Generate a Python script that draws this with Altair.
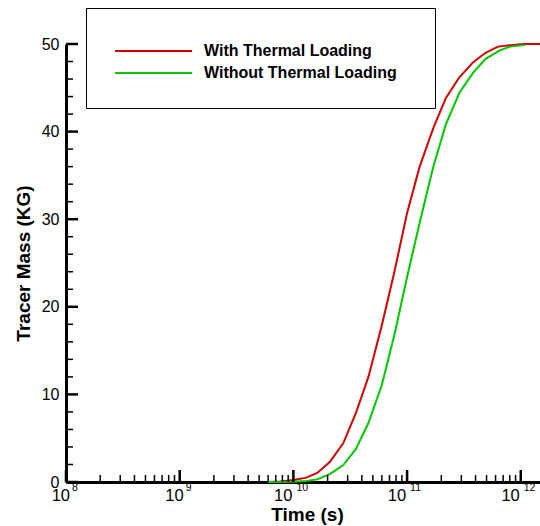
import altair as alt
import pandas as pd

FONT = "Liberation Sans"

series_names = ["With Thermal Loading", "Without Thermal Loading"]
series_colors = ["#d40000", "#00c800"]

time_with = [6.0e9, 7.7e9, 1.0e10, 1.3e10, 1.62e10, 2.09e10, 2.75e10, 3.55e10,
             4.57e10, 6.0e10, 7.8e10, 1.0e11, 1.29e11, 1.7e11, 2.19e11, 2.88e11,
             3.8e11, 4.9e11, 6.3e11, 8.1e11, 1.07e12, 1.38e12, 1.476e12]
mass_with = [0, 0.05, 0.23, 0.5, 1.03, 2.28, 4.45, 7.9, 12.0, 17.9, 24.2, 30.7,
             36.0, 40.4, 43.8, 46.2, 47.9, 49.0, 49.7, 49.85, 50, 50, 50]

time_without = [6.0e9, 7.7e9, 1.0e10, 1.3e10, 1.62e10, 2.09e10, 2.75e10, 3.55e10,
                4.57e10, 6.0e10, 7.8e10, 1.0e11, 1.29e11, 1.7e11, 2.19e11, 2.88e11,
                3.8e11, 4.9e11, 6.6e11, 8.1e11, 1.1e12]
mass_without = [0, 0, 0.02, 0.12, 0.3, 0.9, 1.94, 3.77, 6.73, 11.1, 17.0, 23.4,
                29.6, 36.0, 40.8, 44.4, 46.7, 48.3, 49.3, 49.7, 49.9]

x_major = [1e8, 1e9, 1e10, 1e11, 1e12]
x_minor = [m * d for d in [1e8, 1e9, 1e10, 1e11] for m in range(2, 10)]
x_exp_short = ["8", "9"]
x_exp_long = ["10", "11", "12"]
y_major = [0, 10, 20, 30, 40, 50]
y_minor = [v for v in range(2, 50, 2) if v % 10 != 0]

W, H = 474, 438
x_scale = alt.Scale(type="log", domain=[1e8, 1.476e12], nice=False)
y_scale = alt.Scale(domain=[0, 50], nice=False)

df = pd.concat([
    pd.DataFrame({"time": time_with, "mass": mass_with, "series": series_names[0]}),
    pd.DataFrame({"time": time_without, "mass": mass_without, "series": series_names[1]}),
])

curves = alt.Chart(df).mark_line(strokeWidth=2, clip=False).encode(
    x=alt.X("time:Q", scale=x_scale,
            axis=alt.Axis(labels=False, ticks=False, grid=False, domainWidth=3,
                          domainColor="black", title="Time (s)", titleFont=FONT,
                          titleFontSize=19, titleFontWeight="bold", titleColor="black",
                          titleX=241, titleY=38, titleBaseline="alphabetic",
                          titleAlign="center")),
    y=alt.Y("mass:Q", scale=y_scale,
            axis=alt.Axis(values=y_major, ticks=False, grid=False, domainWidth=3,
                          domainColor="black", labelFont=FONT, labelFontSize=16,
                          labelColor="black", labelPadding=7,
                          title="Tracer Mass (KG)", titleFont=FONT, titleFontSize=19,
                          titleFontWeight="bold", titleColor="black", titleAngle=270,
                          titleX=-43, titleY=H / 2, titleAlign="center",
                          titleBaseline="middle")),
    color=alt.Color("series:N", scale=alt.Scale(domain=series_names, range=series_colors),
                    legend=None),
    order=alt.Order("time:Q"),
)

xmaj = alt.Chart(pd.DataFrame({"t": x_major})).mark_rule(color="black", strokeWidth=2.5).encode(
    x=alt.X("t:Q", scale=x_scale), y=alt.value(H), y2=alt.value(H - 12))
xmin = alt.Chart(pd.DataFrame({"t": x_minor})).mark_rule(color="black", strokeWidth=1.5).encode(
    x=alt.X("t:Q", scale=x_scale), y=alt.value(H), y2=alt.value(H - 7))
ymaj = alt.Chart(pd.DataFrame({"v": y_major})).mark_rule(color="black", strokeWidth=2.5).encode(
    y=alt.Y("v:Q", scale=y_scale), x=alt.value(0), x2=alt.value(12))
ymin = alt.Chart(pd.DataFrame({"v": y_minor})).mark_rule(color="black", strokeWidth=1.5).encode(
    y=alt.Y("v:Q", scale=y_scale), x=alt.value(0), x2=alt.value(7))

lab_short = pd.DataFrame({"t": x_major[:2], "base": "10", "exp": x_exp_short})
lab_long = pd.DataFrame({"t": x_major[2:], "base": "10", "exp": x_exp_long})

def xlabels(d, base_dx, exp_dx):
    b = alt.Chart(d).mark_text(align="right", baseline="alphabetic", dx=base_dx,
                               font=FONT, fontSize=16.5, color="black").encode(
        x=alt.X("t:Q", scale=x_scale), y=alt.value(H + 19), text="base:N")
    e = alt.Chart(d).mark_text(align="left", baseline="alphabetic", dx=exp_dx,
                               font=FONT, fontSize=10.5, color="black").encode(
        x=alt.X("t:Q", scale=x_scale), y=alt.value(H + 9), text="exp:N")
    return [b, e]

labels = xlabels(lab_short, 4, 6) + xlabels(lab_long, -1, 3)

# legend box
one = pd.DataFrame({"k": [0]})
box = alt.Chart(one).mark_rect(fill="white", stroke="black", strokeWidth=1).encode(
    x=alt.value(20.5), x2=alt.value(369.5), y=alt.value(-35.5), y2=alt.value(64.5))
legend_layers = [box]
for i, (name, col) in enumerate(zip(series_names, series_colors)):
    yy = 7 + 22 * i
    d = pd.DataFrame({"name": [name]})
    legend_layers.append(alt.Chart(d).mark_rule(color=col, strokeWidth=2).encode(
        x=alt.value(49), x2=alt.value(126), y=alt.value(yy)))
    legend_layers.append(alt.Chart(d).mark_text(align="left", baseline="middle", font=FONT,
                                                fontSize=16, fontWeight="bold", color="black").encode(
        x=alt.value(138), y=alt.value(yy), text="name:N"))

chart = alt.layer(curves, xmin, xmaj, ymin, ymaj, *labels, *legend_layers).properties(
    width=W, height=H,
    background="white",
    autosize=alt.AutoSizeParams(type="none"),
    padding={"left": 66, "top": 44, "right": 0, "bottom": 44},
).configure_view(stroke=None)

chart.save("out.html", embed_options={"renderer": "svg", "actions": False})
